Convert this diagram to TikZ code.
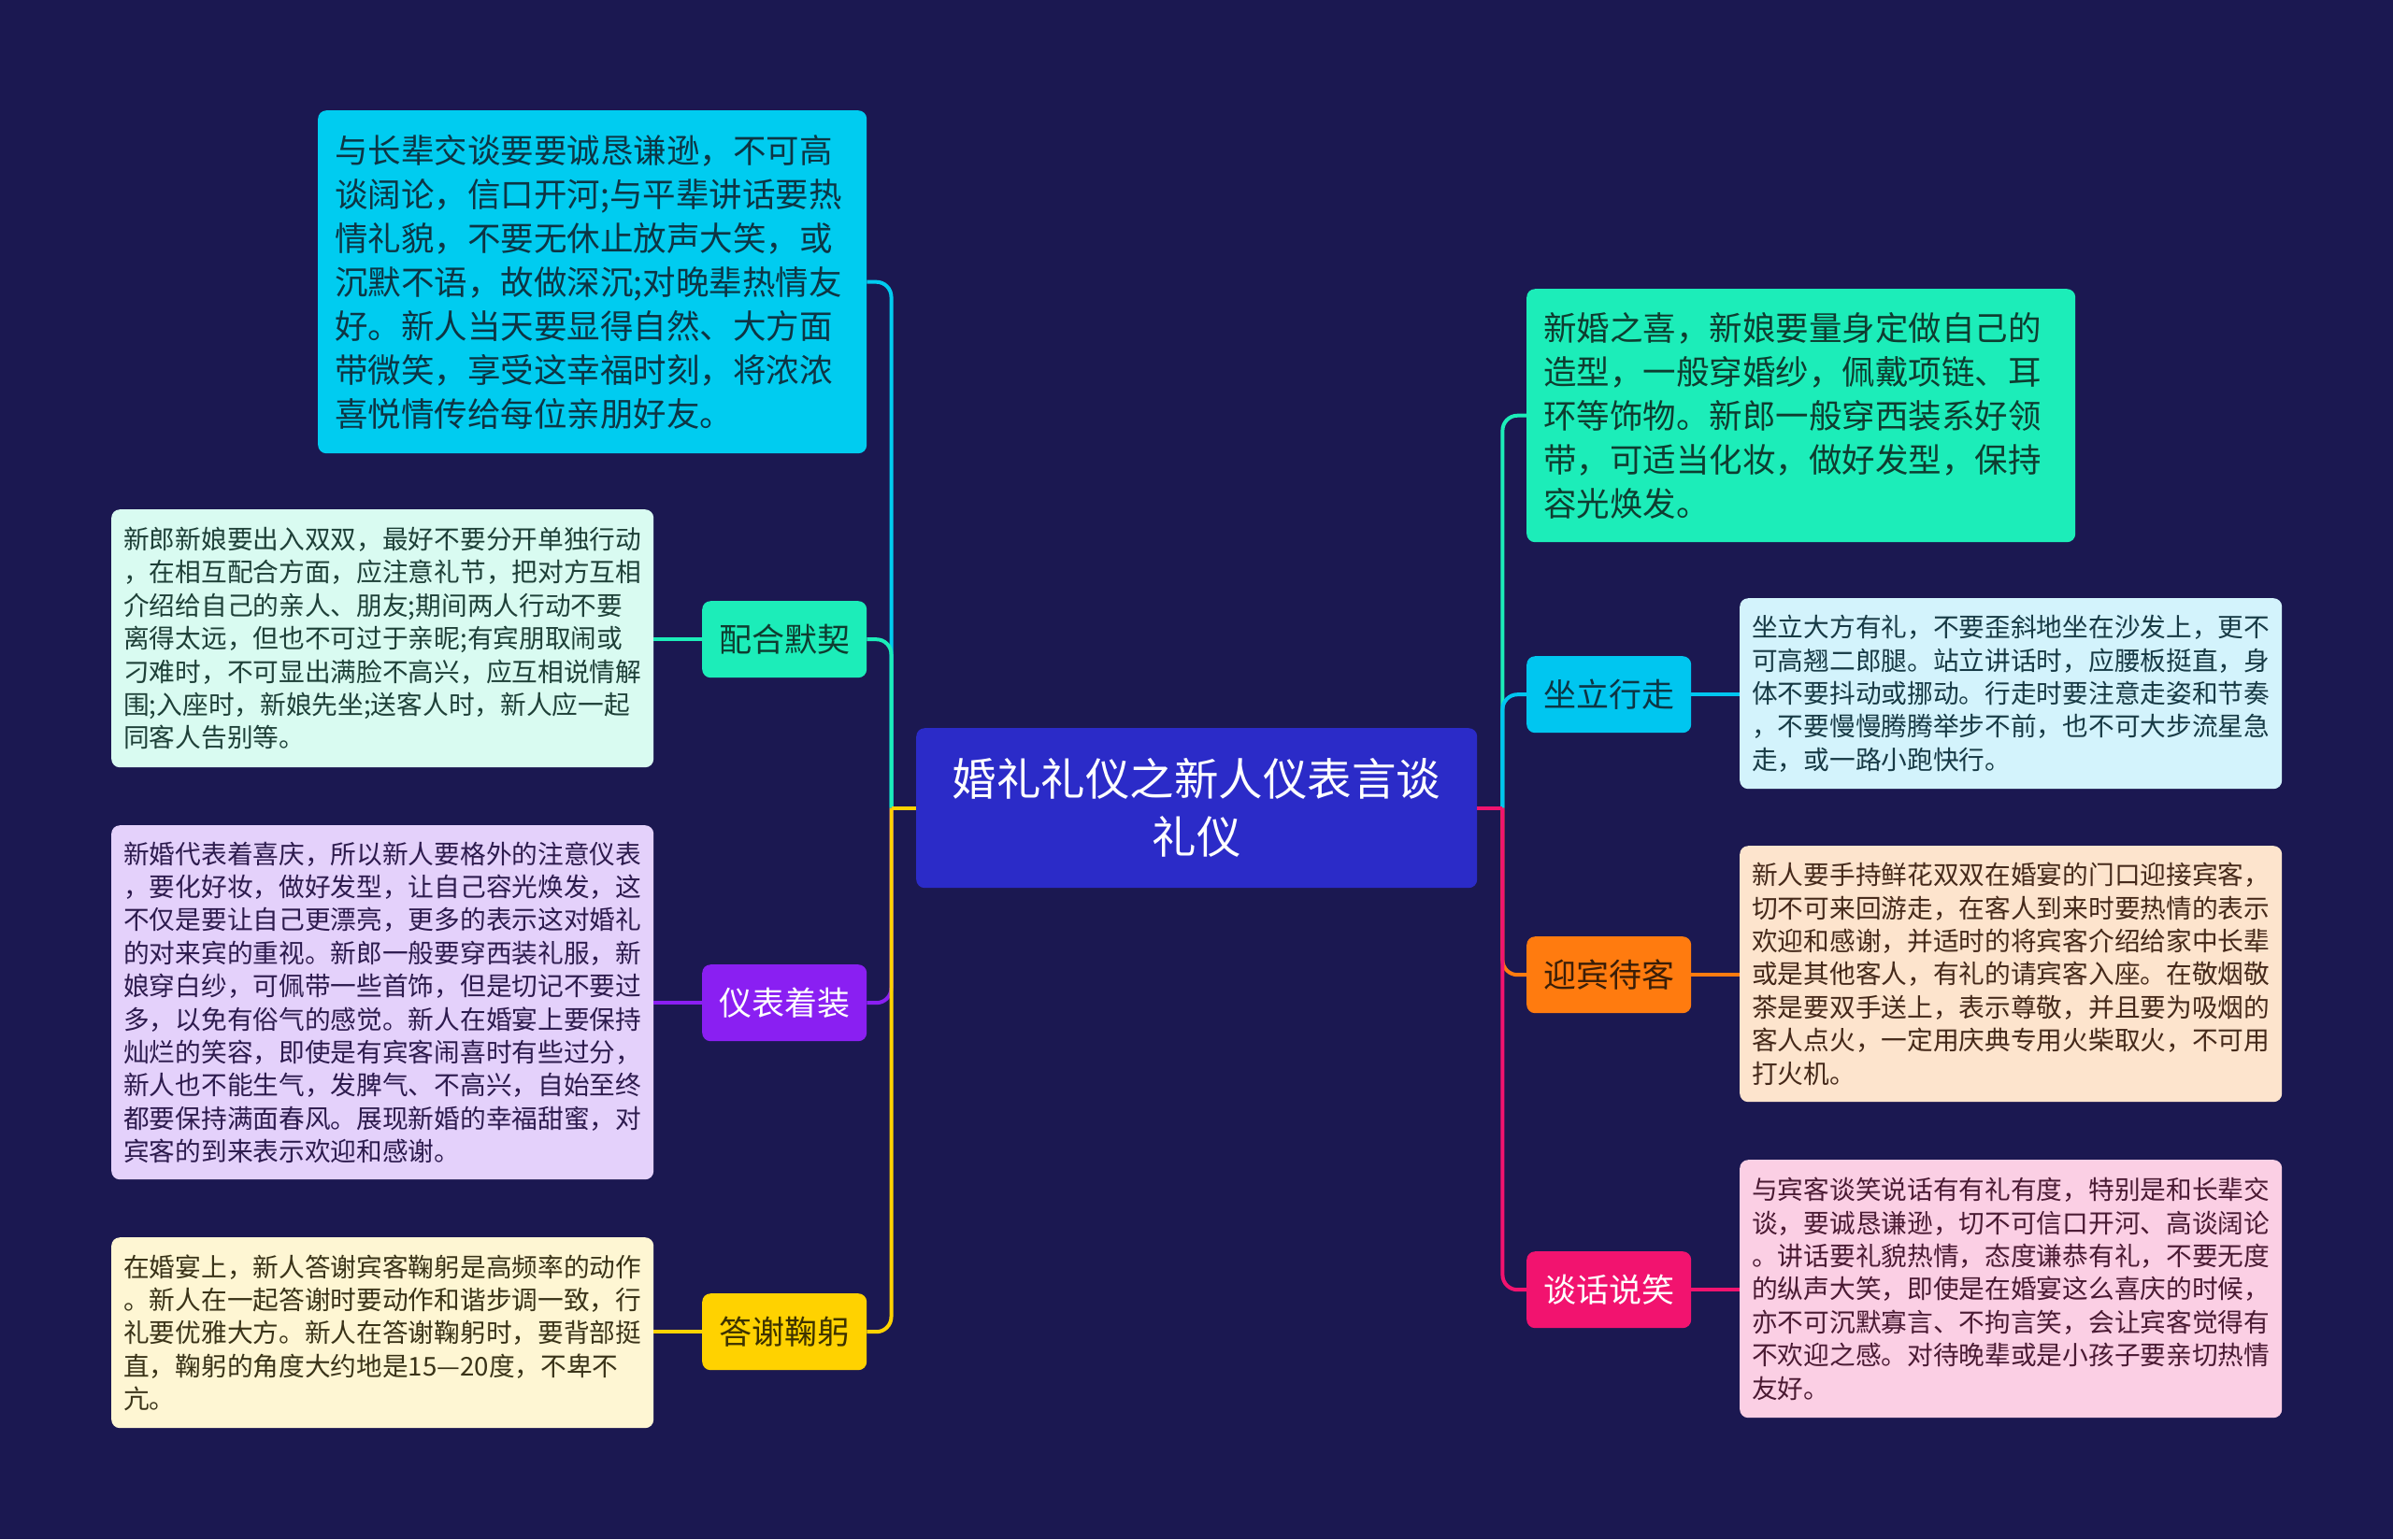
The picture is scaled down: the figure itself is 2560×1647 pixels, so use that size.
\documentclass[tikz,border=0pt]{standalone}
\usepackage{fontspec}
\setmainfont{Noto Sans CJK SC}
\definecolor{bg}{HTML}{1B1851}
\definecolor{cC}{HTML}{2B2BC8}
\definecolor{cTL}{HTML}{00CCF0}
\definecolor{cTLt}{HTML}{0D3544}
\definecolor{cTR}{HTML}{1CEDB9}
\definecolor{cTRt}{HTML}{0E3D30}
\definecolor{cPZ}{HTML}{1CEDB9}
\definecolor{cYB}{HTML}{8A1FF2}
\definecolor{cDX}{HTML}{FFD200}
\definecolor{cDXt}{HTML}{3D3200}
\definecolor{cZL}{HTML}{00C6F0}
\definecolor{cYK}{HTML}{FF7B0F}
\definecolor{cYKt}{HTML}{3A1E08}
\definecolor{cTH}{HTML}{F2136F}
\definecolor{tA}{HTML}{D9FBF1}\definecolor{tAt}{HTML}{1E4038}
\definecolor{tB}{HTML}{E4D1FB}\definecolor{tBt}{HTML}{2D1B4E}
\definecolor{tC}{HTML}{FEF6D3}\definecolor{tCt}{HTML}{3A3318}
\definecolor{rA}{HTML}{D3F3FC}\definecolor{rAt}{HTML}{173A45}
\definecolor{rB}{HTML}{FDE4CD}\definecolor{rBt}{HTML}{45291A}
\definecolor{rC}{HTML}{FBCFE4}\definecolor{rCt}{HTML}{4A1A33}
\tikzset{
  base/.style={rounded corners=9pt, inner sep=0pt, anchor=north west},
  bigbox/.style={base, align=left, minimum width=587pt, text width=551pt, font=\fontsize{35.5}{47}\selectfont},
  smallbox/.style={base, align=left, minimum width=580pt, text width=554pt, font=\fontsize{27.7}{35.4}\selectfont},
  lbl/.style={base, align=center, minimum width=176pt, minimum height=82pt, font=\fontsize{35}{42}\selectfont},
  link/.style={line width=4pt},
  elbow/.style={line width=4pt, rounded corners=16pt},
}
\begin{document}
\begin{tikzpicture}[x=1pt,y=-1pt]
\useasboundingbox (0,0) rectangle (2560,1647);
\fill[bg] (0,0) rectangle (2560,1647);

% center
\node[base, align=center, fill=cC, text=white, minimum width=600pt, minimum height=171pt, text width=580pt, font=\fontsize{47.5}{62}\selectfont] (c) at (980,779) {婚礼礼仪之新人仪表言谈\\礼仪};

% left side
\node[bigbox, fill=cTL, text=cTLt, minimum height=367pt] (tl) at (340,118) {与长辈交谈要要诚恳谦逊，不可高\\谈阔论，信口开河;与平辈讲话要热\\情礼貌，不要无休止放声大笑，或\\沉默不语，故做深沉;对晚辈热情友\\好。新人当天要显得自然、大方面\\带微笑，享受这幸福时刻，将浓浓\\喜悦情传给每位亲朋好友。};

\node[lbl, fill=cPZ, text=cTRt] (pz) at (751,643) {配合默契};
\node[smallbox, fill=tA, text=tAt, minimum height=276pt] (ta) at (119,545) {新郎新娘要出入双双，最好不要分开单独行动\\，在相互配合方面，应注意礼节，把对方互相\\介绍给自己的亲人、朋友;期间两人行动不要\\离得太远，但也不可过于亲昵;有宾朋取闹或\\刁难时，不可显出满脸不高兴，应互相说情解\\围;入座时，新娘先坐;送客人时，新人应一起\\同客人告别等。};

\node[lbl, fill=cYB, text=white] (yb) at (751,1032) {仪表着装};
\node[smallbox, fill=tB, text=tBt, minimum height=379pt] (tb) at (119,883) {新婚代表着喜庆，所以新人要格外的注意仪表\\，要化好妆，做好发型，让自己容光焕发，这\\不仅是要让自己更漂亮，更多的表示这对婚礼\\的对来宾的重视。新郎一般要穿西装礼服，新\\娘穿白纱，可佩带一些首饰，但是切记不要过\\多，以免有俗气的感觉。新人在婚宴上要保持\\灿烂的笑容，即使是有宾客闹喜时有些过分，\\新人也不能生气，发脾气、不高兴，自始至终\\都要保持满面春风。展现新婚的幸福甜蜜，对\\宾客的到来表示欢迎和感谢。};

\node[lbl, fill=cDX, text=cDXt] (dx) at (751,1384) {答谢鞠躬};
\node[smallbox, fill=tC, text=tCt, minimum height=204pt] (tc) at (119,1324) {在婚宴上，新人答谢宾客鞠躬是高频率的动作\\。新人在一起答谢时要动作和谐步调一致，行\\礼要优雅大方。新人在答谢鞠躬时，要背部挺\\直，鞠躬的角度大约地是15—20度，不卑不\\亢。};

% right side
\node[bigbox, fill=cTR, text=cTRt, minimum height=271pt] (tr) at (1633,309) {新婚之喜，新娘要量身定做自己的\\造型，一般穿婚纱，佩戴项链、耳\\环等饰物。新郎一般穿西装系好领\\带，可适当化妆，做好发型，保持\\容光焕发。};

\node[lbl, fill=cZL, text=cTLt] (zl) at (1633,702) {坐立行走};
\node[smallbox, fill=rA, text=rAt, minimum height=204pt] (ra) at (1861,640) {坐立大方有礼，不要歪斜地坐在沙发上，更不\\可高翘二郎腿。站立讲话时，应腰板挺直，身\\体不要抖动或挪动。行走时要注意走姿和节奏\\，不要慢慢腾腾举步不前，也不可大步流星急\\走，或一路小跑快行。};

\node[lbl, fill=cYK, text=cYKt] (yk) at (1633,1002) {迎宾待客};
\node[smallbox, fill=rB, text=rBt, minimum height=274pt] (rb) at (1861,905) {新人要手持鲜花双双在婚宴的门口迎接宾客，\\切不可来回游走，在客人到来时要热情的表示\\欢迎和感谢，并适时的将宾客介绍给家中长辈\\或是其他客人，有礼的请宾客入座。在敬烟敬\\茶是要双手送上，表示尊敬，并且要为吸烟的\\客人点火，一定用庆典专用火柴取火，不可用\\打火机。};

\node[lbl, fill=cTH, text=white] (th) at (1633,1339) {谈话说笑};
\node[smallbox, fill=rC, text=rCt, minimum height=276pt] (rc) at (1861,1241) {与宾客谈笑说话有有礼有度，特别是和长辈交\\谈，要诚恳谦逊，切不可信口开河、高谈阔论\\。讲话要礼貌热情，态度谦恭有礼，不要无度\\的纵声大笑，即使是在婚宴这么喜庆的时候，\\亦不可沉默寡言、不拘言笑，会让宾客觉得有\\不欢迎之感。对待晚辈或是小孩子要亲切热情\\友好。};

% junctions
\coordinate (jl) at ([xshift=-26.5pt]c.west);
\coordinate (jr) at ([xshift=27pt]c.east);

% left connectors
\draw[elbow, cTL] (jl) |- (tl.east);
\draw[link, cTL] (c.west) -- (jl);
\draw[elbow, cPZ] (jl) |- (pz.east);
\draw[link, cPZ] (c.west) -- (jl);
\draw[elbow, cYB] (jl) |- (yb.east);
\draw[link, cYB] (c.west) -- (jl);
\draw[elbow, cDX] (jl) |- (dx.east);
\draw[link, cDX] (c.west) -- (jl);

\draw[link, cPZ] (pz.west) -- (ta.east |- pz.west);
\draw[link, cYB] (yb.west) -- (tb.east |- yb.west);
\draw[link, cDX] (dx.west) -- (tc.east |- dx.west);

% right connectors
\draw[elbow, cTR] (jr) |- (tr.west);
\draw[link, cTR] (c.east) -- (jr);
\draw[elbow, cZL] (jr) |- (zl.west);
\draw[link, cZL] (c.east) -- (jr);
\draw[elbow, cYK] (jr) |- (yk.west);
\draw[link, cYK] (c.east) -- (jr);
\draw[elbow, cTH] (jr) |- (th.west);
\draw[link, cTH] (c.east) -- (jr);

\draw[link, cZL] (zl.east) -- (ra.west |- zl.east);
\draw[link, cYK] (yk.east) -- (rb.west |- yk.east);
\draw[link, cTH] (th.east) -- (rc.west |- th.east);
\end{tikzpicture}
\end{document}
